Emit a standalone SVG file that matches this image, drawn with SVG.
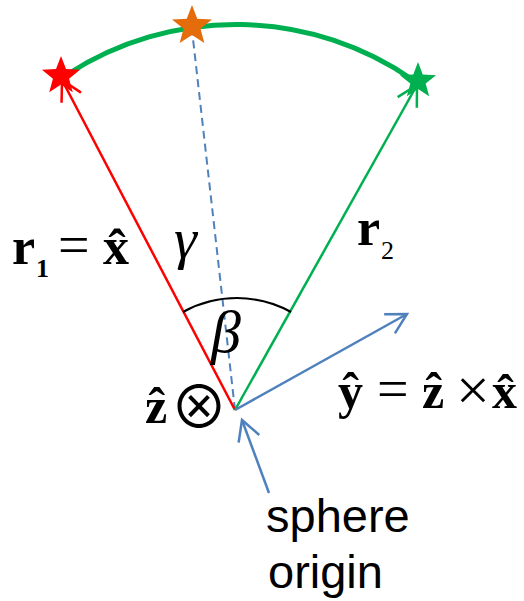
<svg xmlns="http://www.w3.org/2000/svg" width="524" height="601" viewBox="0 0 524 601">
<style>
.b{font-family:"Liberation Serif","Times New Roman",serif;font-weight:bold;fill:#000}
.n{font-family:"Liberation Serif","Times New Roman",serif;fill:#000}
.i{font-family:"Liberation Serif","Times New Roman",serif;font-style:italic;fill:#000}
.s{font-family:"Liberation Sans",Arial,sans-serif;fill:#000;font-size:47px}
.ln{fill:none;stroke-width:2.5}
</style>
<defs>
<path id="star" d="M0,-20 L5,-6.88 L19.020,-6.18 L8.08,2.63 L11.76,16.18 L0,8.5 L-11.76,16.18 L-8.08,2.63 L-19.02,-6.18 L-5,-6.88 Z"/>
<marker id="aR" markerUnits="userSpaceOnUse" viewBox="-24 -14 28 28" markerWidth="28" markerHeight="28" refX="0" refY="0" orient="auto"><path d="M-20,-11 L0,0 L-20,11" fill="none" stroke="#FF0000" stroke-width="2.5"/></marker>
<marker id="aG" markerUnits="userSpaceOnUse" viewBox="-24 -14 28 28" markerWidth="28" markerHeight="28" refX="0" refY="0" orient="auto"><path d="M-20,-11 L0,0 L-20,11" fill="none" stroke="#00B050" stroke-width="2.5"/></marker>
<marker id="aB" markerUnits="userSpaceOnUse" viewBox="-24 -14 28 28" markerWidth="28" markerHeight="28" refX="0" refY="0" orient="auto"><path d="M-20,-11 L0,0 L-20,11" fill="none" stroke="#4F81BD" stroke-width="2.5"/></marker>
</defs>
<g id="connectors">
<path id="arc-path" d="M68,74 A310,310 0 0 1 413,80" fill="none" stroke="#00B050" stroke-width="5"/>
<line id="dashed" x1="235" y1="410" x2="192" y2="30" stroke="#4F81BD" stroke-width="2" stroke-dasharray="8,5"/>
<line id="r1" class="ln" x1="235" y1="410" x2="62" y2="80" stroke="#FF0000" marker-end="url(#aR)"/>
<line id="r2" class="ln" x1="235" y1="410" x2="417" y2="85" stroke="#00B050" marker-end="url(#aG)"/>
<line id="yhat" class="ln" x1="235" y1="410" x2="407" y2="314" stroke="#4F81BD" marker-end="url(#aB)"/>
<line id="origin-arrow" class="ln" x1="269" y1="493" x2="242" y2="420" stroke="#4F81BD" marker-end="url(#aB)"/>
<path id="beta-arc" d="M183,312 A112,112 0 0 1 291,312" fill="none" stroke="#000" stroke-width="2"/>
</g>
<g id="star-red"><use href="#star" transform="translate(61,76)" fill="#FF0000"/></g>
<g id="star-orange"><use href="#star" transform="translate(192,26) scale(1.05)" fill="#E46C0A"/></g>
<g id="star-green"><use href="#star" transform="translate(418,81) scale(0.95)" fill="#00B050"/></g>
<g id="label-r1">
<text class="b" x="12" y="264" font-size="52">r</text>
<text class="b" x="36" y="277" font-size="26">1</text>
<text class="n" x="58" y="264" font-size="56">=</text>
<text class="b" x="103" y="264" font-size="52">x̂</text>
</g>
<g id="label-gamma"><text class="i" x="174" y="258" font-size="58">γ</text></g>
<g id="label-beta"><text class="i" x="211" y="352" font-size="60">β</text></g>
<g id="label-r2">
<text class="b" x="357" y="245" font-size="52">r</text>
<text class="n" x="381" y="259" font-size="26">2</text>
</g>
<g id="label-z">
<text class="b" x="145" y="423" font-size="50">ẑ</text>
<text x="199" y="428" font-size="58" text-anchor="middle" font-family="'Noto Sans CJK JP','DejaVu Sans',sans-serif">⊗</text>
</g>
<g id="label-y">
<text class="b" x="338" y="408" font-size="50">ŷ</text>
<text class="n" x="377" y="408" font-size="56">=</text>
<text class="b" x="422" y="408" font-size="50">ẑ</text>
<text class="n" x="456" y="410" font-size="60">×</text>
<text class="b" x="492" y="408" font-size="50">x̂</text>
</g>
<g id="label-origin">
<text class="s" x="266" y="532">sphere</text>
<text class="s" x="268" y="588">origin</text>
</g>
</svg>
